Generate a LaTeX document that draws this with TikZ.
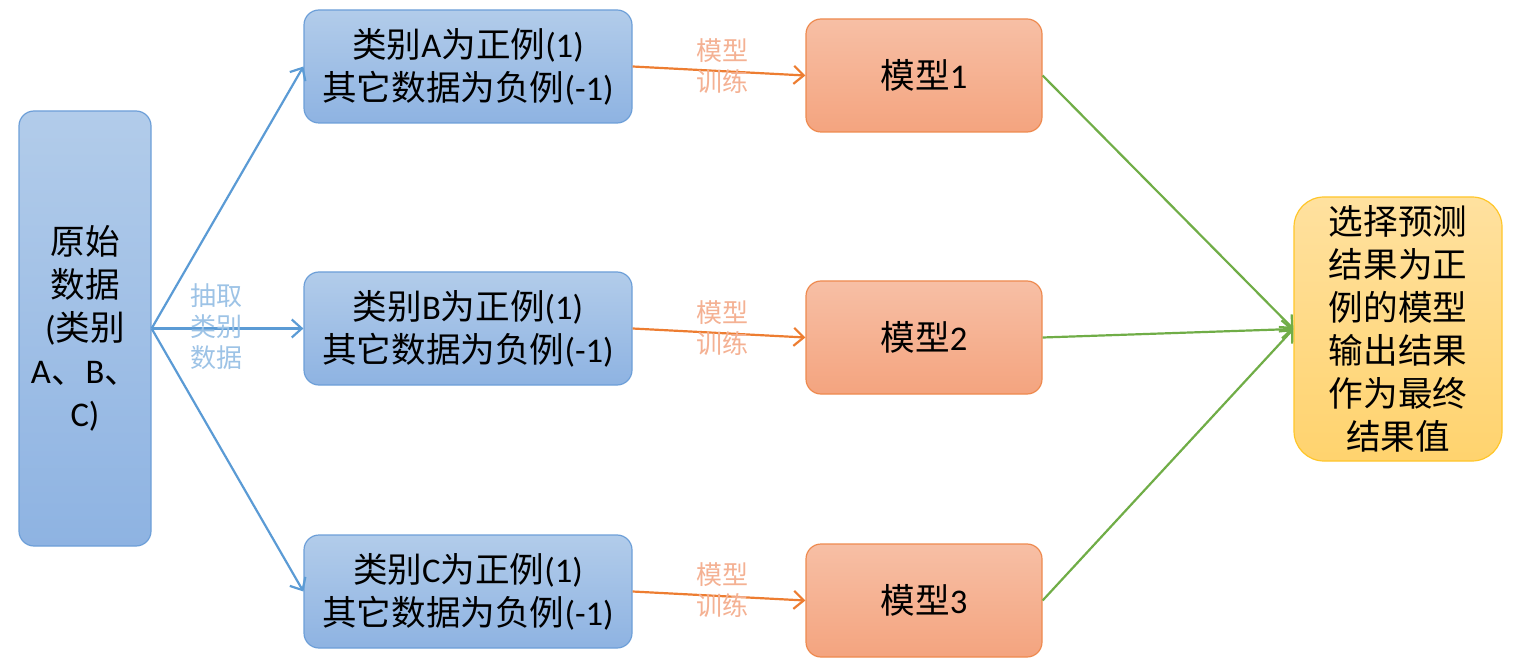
\documentclass[tikz,border=0pt]{standalone}
\usepackage{fontspec}
\setmainfont{Carlito}
\newfontfamily\zh{Noto Sans CJK SC}
\usetikzlibrary{arrows.meta}
\definecolor{bluetop}{HTML}{B2CCEA}
\definecolor{bluebot}{HTML}{8EB3E2}
\definecolor{blueline}{HTML}{6D9FD8}
\definecolor{bluearrow}{HTML}{5B9BD5}
\definecolor{bluelabel}{HTML}{9DC3E6}
\definecolor{ortop}{HTML}{F7BFA5}
\definecolor{orbot}{HTML}{F4A47F}
\definecolor{orline}{HTML}{EE8A4F}
\definecolor{orarrow}{HTML}{ED7D31}
\definecolor{orlabel}{HTML}{F4B193}
\definecolor{yetop}{HTML}{FFE19F}
\definecolor{yebot}{HTML}{FFD36E}
\definecolor{yeline}{HTML}{FFC62A}
\definecolor{grarrow}{HTML}{70AD47}
\tikzset{
  bigtext/.style={font=\fontsize{17.3}{21.5}\selectfont, align=center, text=black},
  bluebox/.style={bigtext, rectangle, rounded corners=7.5pt, draw=blueline, line width=0.6pt,
    top color=bluetop, bottom color=bluebot, inner sep=0pt},
  orbox/.style={bigtext, rectangle, rounded corners=7.5pt, draw=orline, line width=0.6pt,
    top color=ortop, bottom color=orbot, inner sep=0pt,
    minimum width=118pt, minimum height=56.5pt},
  yebox/.style={bigtext, rectangle, rounded corners=15pt, draw=yeline, line width=0.6pt,
    top color=yetop, bottom color=yebot, inner sep=0pt,
    minimum width=104pt, minimum height=132pt},
  smalllabel/.style={font=\zh\fontsize{13}{15.5}\selectfont, align=center},
  barrow/.style={draw=bluearrow, line width=1.1pt, -{Straight Barb[length=5pt,width=9pt]}},
  oarrow/.style={draw=orarrow, line width=1.1pt, -{Straight Barb[length=5pt,width=9pt]}},
  garrow/.style={draw=grarrow, line width=1.1pt, -{Straight Barb[length=5pt,width=9pt]}},
}
\begin{document}
\begin{tikzpicture}[x=0.5pt, y=-0.5pt]
\useasboundingbox (0,0) rectangle (1526,668);
% source
\node[bluebox, minimum width=66pt, minimum height=217.5pt] (src) at (85,328.5)
  {{\zh 原始}\\{\zh 数据}\\({\zh 类别}\\A{\zh 、}B{\zh 、}\\C)};
% blue boxes
\node[bluebox, minimum width=164pt, minimum height=56.5pt] (ba) at (468,66.5)
  {{\zh 类别}A{\zh 为正例}(1)\\{\zh 其它数据为负例}(-1)};
\node[bluebox, minimum width=164pt, minimum height=56.5pt] (bb) at (468,328.5)
  {{\zh 类别}B{\zh 为正例}(1)\\{\zh 其它数据为负例}(-1)};
\node[bluebox, minimum width=164pt, minimum height=56.5pt] (bc) at (468,591.5)
  {{\zh 类别}C{\zh 为正例}(1)\\{\zh 其它数据为负例}(-1)};
% model boxes
\node[orbox] (m1) at (924,75.5) {{\zh 模型}1};
\node[orbox] (m2) at (924,337.5) {{\zh 模型}2};
\node[orbox] (m3) at (924,600.5) {{\zh 模型}3};
% final
\node[yebox] (fin) at (1398,329)
  {{\zh 选择预测}\\{\zh 结果为正}\\{\zh 例的模型}\\{\zh 输出结果}\\{\zh 作为最终}\\{\zh 结果值}};
% arrows
\draw[barrow] (src.east) -- (ba.west);
\draw[barrow] (src.east) -- (bb.west);
\draw[barrow] (src.east) -- (bc.west);
\draw[oarrow] (ba.east) -- (m1.west);
\draw[oarrow] (bb.east) -- (m2.west);
\draw[oarrow] (bc.east) -- (m3.west);
\draw[garrow] (m1.east) -- (fin.west);
\draw[garrow] (m2.east) -- (fin.west);
\draw[garrow] (m3.east) -- (fin.west);
% labels
\node[smalllabel, text=bluelabel] (lab0) at (216,327) {抽取\\类别\\数据};
\node[smalllabel, text=orlabel] (lab1) at (722,66) {模型\\训练};
\node[smalllabel, text=orlabel] (lab2) at (722,328) {模型\\训练};
\node[smalllabel, text=orlabel] (lab3) at (722,590) {模型\\训练};
\end{tikzpicture}
\end{document}
